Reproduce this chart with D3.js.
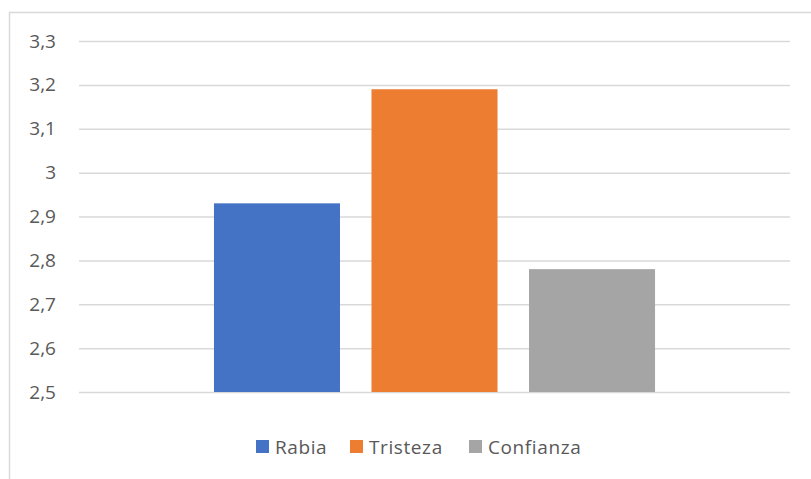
<!DOCTYPE html>
<html>
<head>
<meta charset="utf-8">
<script src="https://cdn.jsdelivr.net/npm/d3@7"></script>
<style>
  body { margin: 0; background: #fff; }
  text { font-family: "Open Sans", sans-serif; fill: #595959; }
</style>
</head>
<body>
<div id="chart"></div>
<script>
// data
var series = ["Rabia", "Tristeza", "Confianza"];
var values = [2.93, 3.19, 2.78];
var colors = ["#4472C4", "#ED7D31", "#A5A5A5"];
var yTicks = [2.5, 2.6, 2.7, 2.8, 2.9, 3.0, 3.1, 3.2, 3.3];

var W = 811, H = 479;
var plot = {left: 79, right: 790, top: 41, bottom: 392};

var svg = d3.select("#chart").append("svg")
    .attr("width", W)
    .attr("height", H);

// chart frame (runs off the right and bottom of the picture)
svg.append("rect")
    .attr("x", 9.5).attr("y", 12.5)
    .attr("width", 900).attr("height", 600)
    .style("fill", "none")
    .style("stroke", "#D9D9D9")
    .style("stroke-width", 1.5);

var y = d3.scaleLinear()
    .domain([2.5, 3.3])
    .range([plot.bottom, plot.top]);

// one category, three series side by side
var x0 = d3.scaleBand()
    .domain(["all"])
    .range([plot.left, plot.right])
    .paddingOuter(0.306);
var x1 = d3.scaleBand()
    .domain(series)
    .range([0, x0.bandwidth()])
    .paddingInner(0.2);

var fmt = function(d) { return d3.format(".1~f")(d).replace(".", ","); };

// gridlines + labels
svg.append("g")
    .attr("transform", "translate(" + plot.left + ",0)")
    .call(d3.axisLeft(y).tickValues(yTicks).tickSize(-(plot.right - plot.left)).tickPadding(23).tickFormat(fmt))
    .call(function(g) { g.select(".domain").remove(); })
    .call(function(g) {
        g.selectAll(".tick line").style("stroke", "#D9D9D9").style("stroke-width", 1.5);
        g.selectAll(".tick text")
            .style("font-size", "19px")
            .style("fill", "#595959")
            .style("font-family", "'Open Sans', sans-serif");
    });

// bars
svg.append("g")
    .attr("transform", "translate(" + x0("all") + ",0)")
    .selectAll("rect")
    .data(series)
    .enter()
    .append("rect")
    .attr("x", function(d) { return x1(d); })
    .attr("y", function(d, i) { return y(values[i]); })
    .attr("width", x1.bandwidth())
    .attr("height", function(d, i) { return y(2.5) - y(values[i]); })
    .style("fill", function(d, i) { return colors[i]; });

// legend
var legendX = [256, 350, 469];
var leg = svg.append("g").selectAll("g")
    .data(series)
    .enter()
    .append("g")
    .attr("transform", function(d, i) { return "translate(" + legendX[i] + ",440)"; });
leg.append("rect")
    .attr("width", 13).attr("height", 13)
    .style("fill", function(d, i) { return colors[i]; });
leg.append("text")
    .attr("x", 19)
    .attr("y", 13.5)
    .style("font-size", "19px")
    .style("letter-spacing", "0.6px")
    .text(function(d) { return d; });
</script>
</body>
</html>
